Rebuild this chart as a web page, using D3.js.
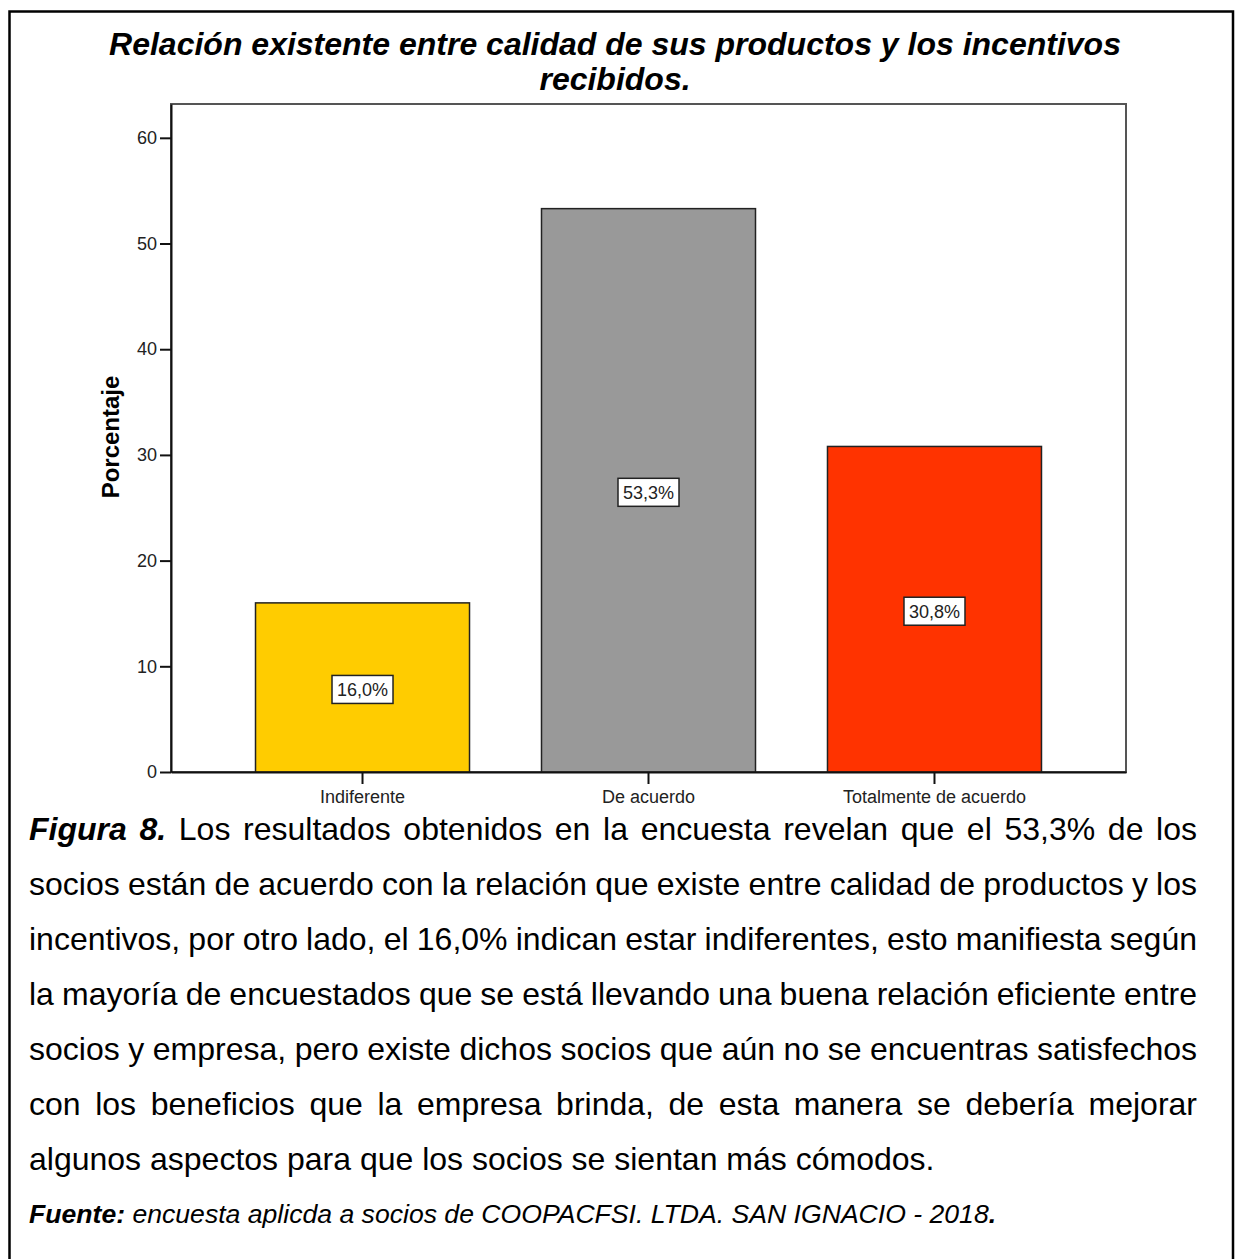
<!DOCTYPE html>
<html>
<head>
<meta charset="utf-8">
<script src="https://cdn.jsdelivr.net/npm/d3@7"></script>
<style>
  html, body { margin: 0; padding: 0; background: #fff; }
  svg { display: block; }
</style>
</head>
<body>
<script>
// Survey results: percentage of members per answer
const categories = ["Indiferente", "De acuerdo", "Totalmente de acuerdo"];
const percentages = [16.0, 53.3, 30.8];
const barColors = ["#FFCC00", "#999999", "#FF3300"];
const yTickValues = [0, 10, 20, 30, 40, 50, 60];

const titleLines = [
  "Relación existente entre calidad de sus productos y los incentivos",
  "recibidos."
];
const yAxisTitle = "Porcentaje";

// Caption paragraph, one entry per printed line
const captionLead = ["Figura", "8."];
const captionLines = [
  "Los resultados obtenidos en la encuesta revelan que el 53,3% de los",
  "socios están de acuerdo con la relación que existe entre calidad de productos y los",
  "incentivos, por otro lado, el 16,0% indican estar indiferentes, esto manifiesta según",
  "la mayoría de encuestados que se está llevando una buena relación eficiente entre",
  "socios y empresa, pero existe dichos socios que aún no se encuentras satisfechos",
  "con los beneficios que la empresa brinda, de esta manera se debería mejorar",
  "algunos aspectos para que los socios se sientan más cómodos."
];
const sourceLabel = "Fuente:";
const sourceText = " encuesta aplicda a socios de COOPACFSI. LTDA. SAN IGNACIO - 2018";

const W = 1238, H = 1259;
const FONT = "'Liberation Sans', Arial, sans-serif";

const svg = d3.select("body").append("svg")
  .attr("width", W).attr("height", H)
  .style("font-family", FONT);

// Outer box (open at the bottom)
svg.append("path")
  .attr("d", `M9.5,${H} V11.5 H1233 V${H}`)
  .attr("fill", "none")
  .attr("stroke", "#000")
  .attr("stroke-width", 2.5);

// Title
svg.append("g").selectAll("text")
  .data(titleLines)
  .join("text")
  .attr("x", 615)
  .attr("y", (d, i) => 55 + i * 35)
  .attr("text-anchor", "middle")
  .attr("font-size", 32)
  .attr("font-weight", "bold")
  .attr("font-style", "italic")
  .attr("fill", "#000")
  .text(d => d);

// Plot area
const plot = { left: 171, right: 1126, top: 104, bottom: 772 };

const x = d3.scaleBand()
  .domain(categories)
  .range([plot.left, plot.right])
  .paddingInner(0.2517)
  .paddingOuter(0.2955);

const y = d3.scaleLinear()
  .domain([0, 63.2])
  .range([plot.bottom, plot.top]);

// Frame
svg.append("rect")
  .attr("x", plot.left)
  .attr("y", plot.top)
  .attr("width", plot.right - plot.left)
  .attr("height", plot.bottom - plot.top)
  .attr("fill", "#fff")
  .attr("stroke", "#555")
  .attr("stroke-width", 2);

// Bars
svg.append("g").selectAll("rect")
  .data(categories)
  .join("rect")
  .attr("x", d => x(d))
  .attr("y", (d, i) => y(percentages[i]))
  .attr("width", x.bandwidth())
  .attr("height", (d, i) => y(0) - y(percentages[i]))
  .attr("fill", (d, i) => barColors[i])
  .attr("stroke", "#222")
  .attr("stroke-width", 1.5);

// Value labels in boxes at bar mid-height
const fmt = v => v.toFixed(1).replace(".", ",") + "%";
const labels = svg.append("g").selectAll("g")
  .data(categories)
  .join("g")
  .attr("transform", (d, i) =>
    `translate(${x(d) + x.bandwidth() / 2},${(y(percentages[i]) + y(0)) / 2 + 2})`);

labels.append("rect")
  .attr("x", -30.5).attr("y", -14)
  .attr("width", 61).attr("height", 28)
  .attr("fill", "#fff")
  .attr("stroke", "#222")
  .attr("stroke-width", 1.5);

labels.append("text")
  .attr("text-anchor", "middle")
  .attr("dy", "0.36em")
  .attr("font-size", 18)
  .attr("fill", "#222")
  .text((d, i) => fmt(percentages[i]));

// Y axis
const yAxis = svg.append("g")
  .attr("transform", `translate(${plot.left},0)`)
  .call(d3.axisLeft(y).tickValues(yTickValues).tickSize(11).tickSizeOuter(0).tickPadding(3));
yAxis.select(".domain").attr("stroke", "#111").attr("stroke-width", 2);
yAxis.selectAll(".tick line").attr("stroke", "#111").attr("stroke-width", 2);
yAxis.selectAll(".tick text")
  .attr("font-family", FONT).attr("font-size", 18).attr("fill", "#222");

// X axis
const xAxis = svg.append("g")
  .attr("transform", `translate(0,${plot.bottom})`)
  .call(d3.axisBottom(x).tickSize(12).tickSizeOuter(0).tickPadding(6));
xAxis.select(".domain").attr("stroke", "#111").attr("stroke-width", 2);
xAxis.selectAll(".tick line").attr("stroke", "#111").attr("stroke-width", 2);
xAxis.selectAll(".tick text")
  .attr("font-family", FONT).attr("font-size", 18).attr("fill", "#222");

// Y axis title
svg.append("text")
  .attr("transform", "translate(119,437) rotate(-90)")
  .attr("text-anchor", "middle")
  .attr("font-size", 24)
  .attr("font-weight", "bold")
  .attr("fill", "#000")
  .text(yAxisTitle);

// Caption paragraph, justified between two margins
const textLeft = 29, textRight = 1197, firstBaseline = 840, lineGap = 55;
const caption = svg.append("g").attr("font-size", 32).attr("fill", "#000");

captionLines.forEach((line, li) => {
  const by = firstBaseline + li * lineGap;
  let words = line.split(" ").map(w => ({ w, lead: false }));
  if (li === 0) words = captionLead.map(w => ({ w, lead: true })).concat(words);
  const last = li === captionLines.length - 1;
  if (last) {
    caption.append("text").attr("x", textLeft).attr("y", by).text(line);
    return;
  }
  const nodes = words.map(o => caption.append("text")
    .attr("y", by)
    .attr("font-weight", o.lead ? "bold" : null)
    .attr("font-style", o.lead ? "italic" : null)
    .text(o.w));
  const widths = nodes.map(n => n.node().getComputedTextLength());
  const total = d3.sum(widths);
  const gap = (textRight - textLeft - total) / (nodes.length - 1);
  let cx = textLeft;
  nodes.forEach((n, i) => { n.attr("x", cx); cx += widths[i] + gap; });
});

// Source line
const src = svg.append("text")
  .attr("x", textLeft)
  .attr("y", 1223)
  .attr("font-size", 26.6)
  .attr("font-style", "italic")
  .attr("fill", "#000");
src.append("tspan").attr("font-weight", "bold").text(sourceLabel);
src.append("tspan").text(sourceText);
src.append("tspan").attr("font-weight", "bold").text(".");
</script>
</body>
</html>
